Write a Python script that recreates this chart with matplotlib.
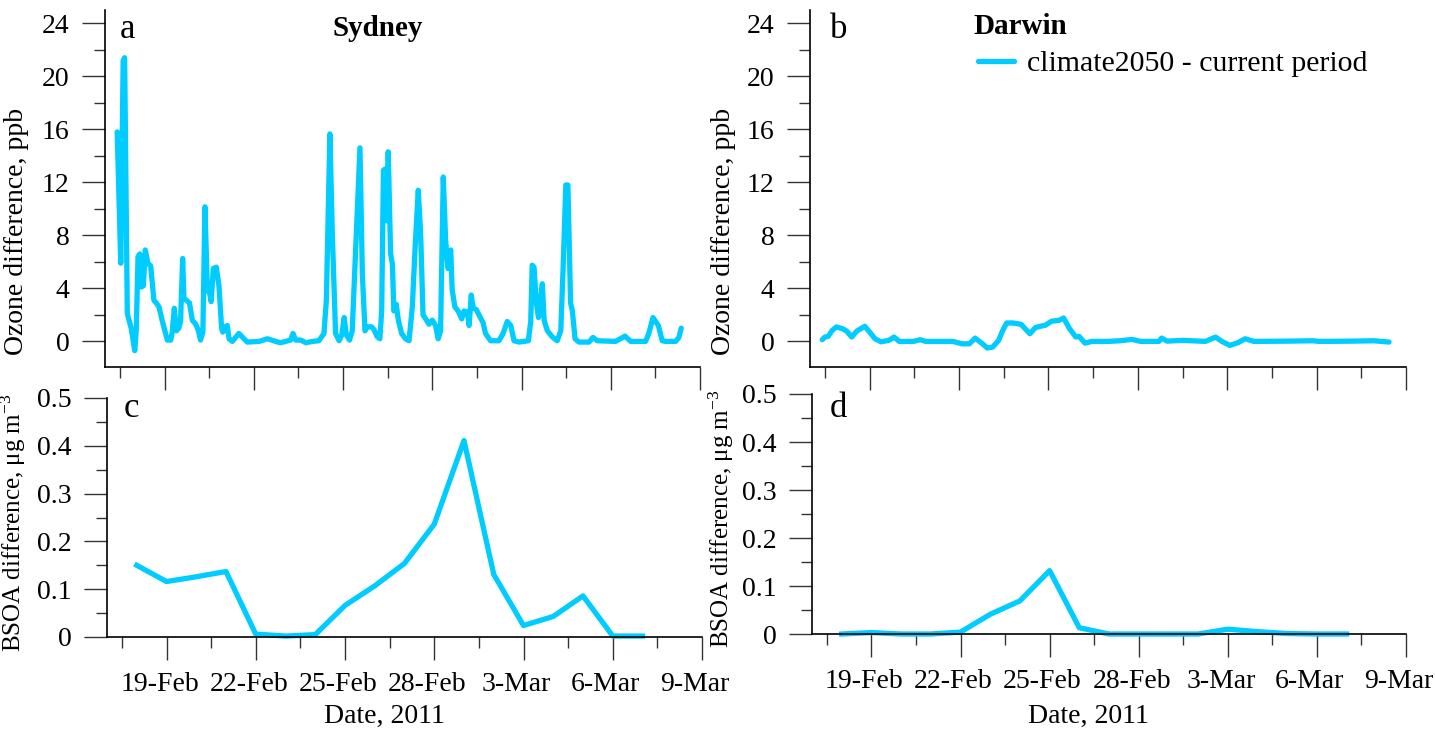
import numpy as np
import pandas as pd
import matplotlib
matplotlib.use("Agg")
import matplotlib.pyplot as plt
import matplotlib.dates as mdates
from matplotlib.ticker import MultipleLocator, FixedLocator, FuncFormatter
from matplotlib.transforms import ScaledTranslation

plt.rcParams['font.family'] = ['Liberation Serif', 'DejaVu Serif']
plt.rcParams['mathtext.fontset'] = 'custom'
plt.rcParams['mathtext.rm'] = 'Liberation Serif'
plt.rcParams['mathtext.it'] = 'Liberation Serif:italic'

# ozone difference (ppb), time in days after 17-Feb-2011 00:00
syd_t = [0.41, 0.53, 0.61, 0.66, 0.75, 0.88, 1.00, 1.05, 1.11, 1.17, 1.22, 1.29, 1.355, 1.44, 1.535,
         1.645, 1.725, 1.815, 1.93, 2.095, 2.21, 2.26, 2.33, 2.40, 2.48, 2.54, 2.61, 2.655, 2.74, 2.84,
         2.935, 3.05, 3.14, 3.21, 3.29, 3.36, 3.44, 3.52, 3.57, 3.64, 3.74, 3.83, 3.92, 3.96, 4.05,
         4.11, 4.17, 4.28, 4.5, 4.78, 5.18, 5.46, 5.74, 5.9, 6.24, 6.32, 6.41, 6.58, 6.75, 6.97,
         7.19, 7.36, 7.44, 7.56, 7.64, 7.75, 7.87, 7.96, 8.04, 8.11, 8.22, 8.31, 8.45, 8.57, 8.65,
         8.74, 8.82, 8.96, 9.04, 9.15, 9.24, 9.3, 9.36, 9.41, 9.47, 9.52, 9.6, 9.66, 9.71, 9.79,
         9.86, 9.97, 10.1, 10.22, 10.33, 10.42, 10.53, 10.61, 10.69, 10.78, 10.89, 11.0, 11.11, 11.2,
         11.28, 11.37, 11.45, 11.53, 11.62, 11.67, 11.76, 11.87, 11.99, 12.07, 12.18, 12.24, 12.31,
         12.38, 12.48, 12.62, 12.71, 12.79, 12.96, 13.24, 13.38, 13.52, 13.64, 13.75, 13.92, 14.23,
         14.31, 14.36, 14.42, 14.5, 14.57, 14.64, 14.7, 14.76, 14.87, 15.03, 15.2, 15.32, 15.4,
         15.49, 15.56, 15.65, 15.71, 15.8, 15.93, 16.27, 16.4, 16.55, 17.16, 17.48, 17.67, 18.17,
         18.28, 18.42, 18.6, 18.73, 18.85, 19.18, 19.29, 19.37]
syd_o3 = [15.8, 5.9, 21.2, 21.4, 2.1, 1.0, -0.7, 0.8, 6.4, 6.6, 4.1, 4.2, 6.9, 5.9, 5.7,
          3.1, 2.9, 2.6, 1.5, 0.1, 0.1, 0.7, 2.5, 0.8, 1.0, 1.5, 6.25, 3.2, 3.1, 2.9,
          1.6, 1.3, 0.8, 0.1, 0.7, 10.15, 3.9, 3.6, 3.0, 5.5, 5.6, 4.2, 1.0, 0.7, 1.1,
          1.2, 0.2, 0.0, 0.6, -0.05, 0.0, 0.2, 0.0, -0.1, 0.1, 0.6, 0.1, 0.1, -0.1, 0.0,
          0.05, 0.6, 3.1, 15.65, 8.2, 0.6, 0.05, 0.5, 1.8, 0.5, 0.1, 0.8, 8.2, 14.6, 5.1,
          0.8, 1.1, 1.1, 0.9, 0.35, 0.2, 2.3, 12.9, 13.0, 9.1, 14.3, 6.6, 5.85, 2.3, 2.8,
          1.6, 0.6, 0.2, 0.05, 2.6, 6.9, 11.4, 8.1, 2.0, 1.7, 1.3, 1.6, 1.2, 0.2,
          0.8, 12.4, 7.6, 5.5, 6.9, 3.9, 2.6, 2.3, 1.7, 2.3, 2.2, 1.2, 3.5,
          2.5, 2.4, 1.8, 1.4, 0.6, 0.05, 0.05, 0.6, 1.5, 1.2, 0.05, -0.05, 0.05,
          1.5, 5.75, 5.6, 2.9, 1.8, 3.1, 4.35, 1.6, 0.8, 0.35, 0.05, 0.8, 5.6,
          11.8, 11.8, 2.9, 2.3, 0.2, -0.05, -0.05, 0.3, 0.05, 0.0, 0.4, 0.0, 0.0,
          0.6, 1.8, 1.2, 0.05, 0.0, 0.0, 0.3, 1.0]

dar_t = [0.41, 0.50, 0.61, 0.75, 0.885, 1.09, 1.23, 1.40, 1.57, 1.84, 2.0, 2.18, 2.38, 2.65, 2.82,
         3.0, 3.47, 3.70, 3.88, 4.70, 4.83, 5.1, 5.35, 5.54, 5.79, 5.95, 6.13, 6.33, 6.47, 6.6,
         6.81, 7.08, 7.22, 7.38, 7.56, 7.76, 7.90, 8.1, 8.37, 8.51, 8.71, 8.92, 9.03, 9.23, 9.46,
         10.0, 10.4, 10.8, 11.1, 11.71, 11.8, 11.98, 12.53, 13.27, 13.61, 13.82, 14.09, 14.36, 14.6,
         14.9, 16.0, 16.88, 17.09, 18.18, 18.92, 19.43]
dar_o3 = [0.13, 0.33, 0.38, 0.84, 1.09, 0.96, 0.78, 0.33, 0.78, 1.14, 0.71, 0.2, -0.03, 0.08, 0.33,
          0.0, 0.0, 0.13, 0.0, 0.0, -0.02, -0.18, -0.18, 0.25, -0.18, -0.5, -0.43, 0.08, 0.84, 1.39,
          1.39, 1.29, 0.96, 0.58, 1.04, 1.16, 1.22, 1.52, 1.6, 1.77, 0.96, 0.33, 0.38, -0.13, 0.0,
          0.0, 0.05, 0.15, 0.0, 0.0, 0.25, 0.02, 0.08, 0.0, 0.33, 0.0, -0.3, -0.1, 0.2,
          0.0, 0.02, 0.05, 0.0, 0.02, 0.05, -0.05]

# daily BSOA difference (ug m-3), 18-Feb to 7-Mar 2011
days = pd.date_range('2011-02-18', '2011-03-07', freq='D')
syd_bsoa = [0.150, 0.116, 0.126, 0.137, 0.006, 0.002, 0.005, 0.066, 0.107, 0.154,
            0.236, 0.411, 0.131, 0.024, 0.043, 0.086, 0.002, 0.002]
dar_bsoa = [0.0, 0.003, 0.0, 0.0, 0.004, 0.041, 0.069, 0.132, 0.013, 0.0,
            0.0, 0.0, 0.0, 0.010, 0.005, 0.001, 0.0, 0.0]

start = pd.Timestamp('2011-02-17')
major_days = pd.date_range('2011-02-19', '2011-03-09', freq='3D')
minor_days = pd.date_range('2011-02-17 12:00', periods=7, freq='3D')

line_color = '#00CCFF'
W, H = 1435, 729
fig = plt.figure(figsize=(W / 100, H / 100), dpi=100)


def box(l, t, r, b):
    return [l / W, 1 - b / H, (r - l) / W, (b - t) / H]


ax_a = fig.add_axes(box(105, 10, 700, 367))
ax_b = fig.add_axes(box(810, 10, 1406, 367))
ax_c = fig.add_axes(box(107, 398, 702, 637))
ax_d = fig.add_axes(box(812, 394, 1406, 634))


def fmt_date(x, pos):
    d = mdates.num2date(x)
    return f"{d.day}-{d:%b}"


for ax in (ax_a, ax_b, ax_c, ax_d):
    for s in ('top', 'right'):
        ax.spines[s].set_visible(False)
    for s in ('left', 'bottom'):
        ax.spines[s].set_linewidth(1.2)
    ax.set_xlim(start, pd.Timestamp('2011-03-09'))
    ax.xaxis.set_major_locator(FixedLocator(mdates.date2num(major_days)))
    ax.xaxis.set_minor_locator(FixedLocator(mdates.date2num(minor_days)))
    ax.xaxis.set_major_formatter(FuncFormatter(fmt_date))
    ax.tick_params(which='major', direction='out', length=16.5, width=1, color='#333333',
                   labelsize=20, pad=9)
    ax.tick_params(which='minor', direction='out', length=8, width=1, color='#333333')

# ozone panels
for ax, t, v in ((ax_a, syd_t, syd_o3), (ax_b, dar_t, dar_o3)):
    tt = start + pd.to_timedelta(t, unit='D')
    ax.plot(tt, v, color=line_color, lw=3.8, solid_joinstyle='round', solid_capstyle='round',
            label='climate2050 - current period')
    ax.set_ylim(-1.93, 25)
    ax.yaxis.set_major_locator(MultipleLocator(4))
    ax.yaxis.set_minor_locator(MultipleLocator(2))
    ax.tick_params(axis='x', labelbottom=False)
    ax.set_ylabel('Ozone difference, ppb', fontsize=20)
ax_a.yaxis.set_label_coords(-0.128, 0.38)
ax_b.yaxis.set_label_coords(-0.125, 0.38)

# BSOA panels
for ax, v in ((ax_c, syd_bsoa), (ax_d, dar_bsoa)):
    ax.plot(days, v, color=line_color, lw=3.8, solid_joinstyle='round', clip_on=False)
    ax.set_ylim(0, 0.5)
    ax.yaxis.set_major_locator(MultipleLocator(0.1))
    ax.yaxis.set_minor_locator(MultipleLocator(0.05))
    ax.yaxis.set_major_formatter(FuncFormatter(lambda y, p: '0' if abs(y) < 1e-9 else f"{y:.1f}"))
    ax.set_ylabel('BSOA difference, μg m$^{\\mathregular{-3}}$', fontsize=18)
    ax.set_xlabel('Date, 2011', fontsize=20)
ax_c.yaxis.set_label_coords(-0.133, 0.48)
ax_d.yaxis.set_label_coords(-0.128, 0.48)
ax_c.xaxis.set_label_coords(0.466, -0.28)
ax_d.xaxis.set_label_coords(0.466, -0.292)

# titles, panel letters, legend
fig.text(378 / W, 1 - 28 / H, 'Sydney', ha='center', va='center', fontsize=21, weight='bold')
fig.text(1020 / W, 1 - 27 / H, 'Darwin', ha='center', va='center', fontsize=21, weight='bold')
for x, y, s in ((120, 38, 'a'), (830, 38, 'b'), (124, 417, 'c'), (830, 417, 'd')):
    fig.text(x / W, 1 - y / H, s, ha='left', va='baseline', fontsize=25)

ax_b.legend(loc='center left', bbox_to_anchor=(978 / W, 1 - 64 / H), bbox_transform=fig.transFigure,
            frameon=False, fontsize=21.5, handlelength=1.2, handletextpad=0.45,
            borderpad=0, borderaxespad=0)

# date labels sit a little left of their ticks in the original
fig.canvas.draw()
shift = ScaledTranslation(-7 / 100, 0, fig.dpi_scale_trans)
for ax in (ax_c, ax_d):
    for lab in ax.get_xticklabels():
        lab.set_transform(lab.get_transform() + shift)

fig.savefig('out.png', dpi=100)
